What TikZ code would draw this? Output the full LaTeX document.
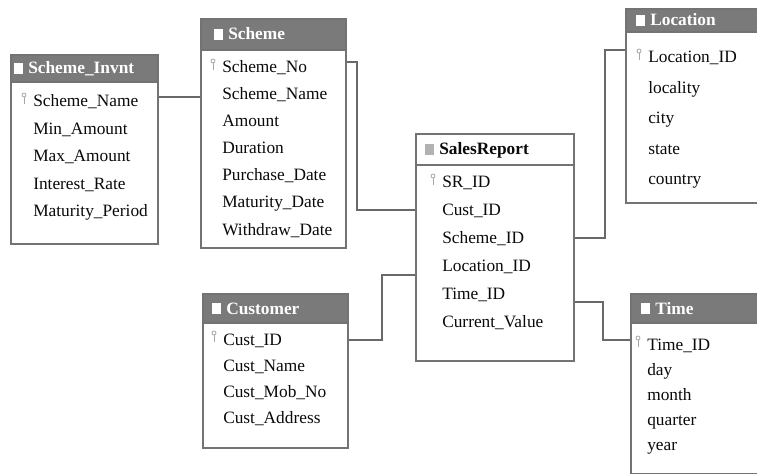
\documentclass[tikz,border=0pt]{standalone}
\usepackage{fontspec}
\setmainfont{Liberation Serif}
\usetikzlibrary{positioning}
\definecolor{headGray}{RGB}{122,122,122}
\definecolor{frameGray}{RGB}{115,115,115}
\definecolor{linkGray}{RGB}{105,105,105}
\definecolor{textDark}{RGB}{10,10,10}
\begin{document}
\begin{tikzpicture}
[x=0.75pt,y=-0.75pt,
  tableDecorate/.style={shape=rectangle,draw=frameGray,line width=1.2pt,anchor=north west,inner sep=0pt},
  titleDecorate/.style={anchor=base west,inner sep=0pt,font=\fontsize{13}{15}\selectfont\bfseries},
  fieldDecorate/.style={anchor=base west,inner sep=0pt,text=textDark,font=\fontsize{13}{15}\selectfont},
  keyDecorate/.style={shape=circle,inner sep=0pt,minimum size=3pt,draw=gray!70,line width=0.6pt},
  lineDecorate/.style={-,draw=linkGray,line width=1.5pt}]
\useasboundingbox[fill=white] (0,0) rectangle (757,474);
%% tables: name/left/top/right/bottom/header height/header colour
\foreach \name/\xa/\ya/\xb/\yb/\h/\hc in {
  invnt/10/54/157/243/28/headGray, scheme/200/18/345/247/32/headGray,
  sales/415/133/573/360/32/white, loc/625/8/780/202/24/headGray,
  time/630/293/780/473/30/headGray, cust/202/293/347/447/30/headGray}
{
  \fill[\hc] (\xa,\ya) rectangle (\xb,\ya+\h);
  \draw[frameGray,line width=0.8pt] (\xa,\ya+\h) -- (\xb,\ya+\h);
  \node (\name) [tableDecorate,minimum width={(\xb-\xa)*0.75pt},minimum height={(\yb-\ya)*0.75pt}] at (\xa,\ya) {};
}
%% titles with icons
\foreach \name/\x/\y/\tc/\ic/\title in {
  invnt/28/74/white/white/Scheme\_Invnt, scheme/228/40/white/white/Scheme,
  sales/439/155/textDark/gray!60/SalesReport, loc/650/26/white/white/Location,
  time/655/314/white/white/Time, cust/226/314/white/white/Customer}
{
  \fill[\ic] (\x-14,\y-11) rectangle (\x-5,\y);
  \node (\name-title) [titleDecorate,text=\tc] at (\x,\y) {\title};
}
%% fields
\foreach \name/\x/\y/\dy/\fields in {
  invnt/33/107/27.5/{Scheme\_Name,Min\_Amount,Max\_Amount,Interest\_Rate,Maturity\_Period},
  scheme/222/73/27/{Scheme\_No,Scheme\_Name,Amount,Duration,Purchase\_Date,Maturity\_Date,Withdraw\_Date},
  sales/442/188/27.8/{SR\_ID,Cust\_ID,Scheme\_ID,Location\_ID,Time\_ID,Current\_Value},
  loc/648/63/30.5/{Location\_ID,locality,city,state,country},
  time/647/350/25/{Time\_ID,day,month,quarter,year},
  cust/223/345/26.3/{Cust\_ID,Cust\_Name,Cust\_Mob\_No,Cust\_Address}}
{
  \node (\name-key) [keyDecorate] at (\x-9,\y-12) {};
  \draw[gray!70,line width=0.6pt] (\name-key.south) -- ++(0,7);
  \foreach \field [count=\i] in \fields
  {
    \node (\name-\i) [fieldDecorate] at (\x,{\y+(\i-1)*\dy}) {\field};
  }
}
%% links
\foreach \s/\e/\mx/\ys/\ye in {
  invnt/scheme/180/97/97, scheme/sales/357/62/210, cust/sales/382/340/275,
  sales/loc/605/238/50, sales/time/603/302/340}
{
  \coordinate (\s-\e-a) at (\mx,\ys);
  \coordinate (\s-\e-b) at (\mx,\ye);
  \draw[lineDecorate] (\s.east |- \s-\e-a) -- (\s-\e-a) -- (\s-\e-b) -- (\e.west |- \s-\e-b);
}
\end{tikzpicture}
\end{document}
